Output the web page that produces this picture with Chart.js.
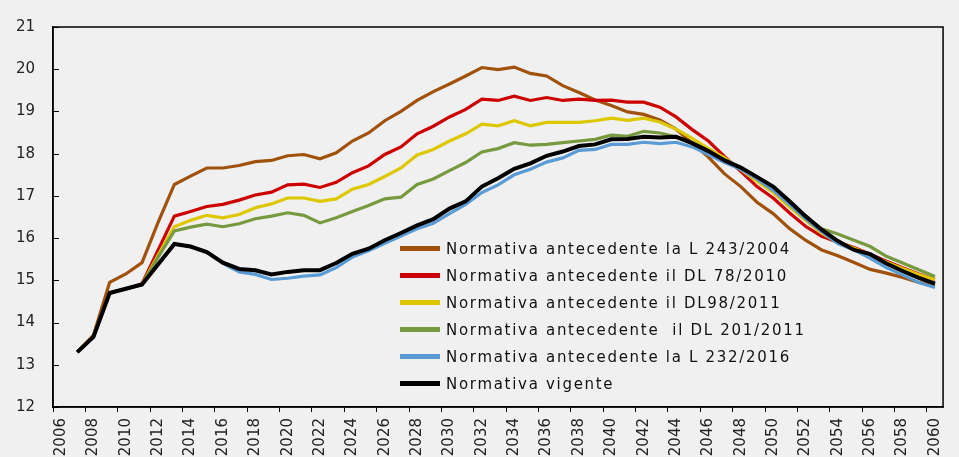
<!DOCTYPE html>
<html>
<head>
<meta charset="utf-8">
<script src="https://cdn.jsdelivr.net/npm/chart.js@4.4.1/dist/chart.umd.min.js"></script>
<style>
html, body { margin:0; padding:0; background:#f0f0f0; overflow:hidden; }
#wrap { position:relative; width:959px; height:457px; }
#legenda { position:absolute; left:400px; top:235px; font-family:"DejaVu Sans", sans-serif; font-size:15px; letter-spacing:1.7px; color:#111; }
.riga { display:flex; align-items:center; height:27px; white-space:pre; }
.segno { width:40px; margin-right:6px; }
</style>
</head>
<body>
<div id="wrap">
  <canvas id="grafico" width="959" height="457"></canvas>
  <div id="legenda"></div>
</div>
<script>
const anni = [];
for (let a = 2006; a <= 2060; a++) anni.push(String(a));

const nomiSerie = [
  'Normativa antecedente la L 243/2004',
  'Normativa antecedente il DL 78/2010',
  'Normativa antecedente il DL98/2011',
  'Normativa antecedente  il DL 201/2011',
  'Normativa antecedente la L 232/2016',
  'Normativa vigente'
];

const colori = ['#A0520C', '#CC0000', '#DDC800', '#77993F', '#5B9BD5', '#000000'];

const l243_2004 = [null,13.3,13.7,14.95,15.15,15.42,16.38,17.27,17.47,17.66,17.66,17.72,17.81,17.84,17.95,17.98,17.88,18.02,18.30,18.49,18.78,19.00,19.26,19.47,19.65,19.84,20.04,19.99,20.05,19.90,19.84,19.61,19.45,19.27,19.14,18.99,18.93,18.80,18.58,18.25,17.92,17.52,17.22,16.85,16.58,16.23,15.95,15.72,15.58,15.42,15.26,15.17,15.07,14.95,14.88];
const dl78_2010 = [null,13.3,13.68,14.7,14.8,14.92,15.72,16.52,16.63,16.75,16.8,16.9,17.02,17.09,17.26,17.28,17.2,17.32,17.55,17.71,17.98,18.16,18.47,18.65,18.87,19.05,19.29,19.26,19.36,19.26,19.33,19.26,19.29,19.26,19.27,19.22,19.22,19.1,18.87,18.57,18.3,17.93,17.58,17.22,16.95,16.6,16.28,16.04,15.9,15.78,15.62,15.45,15.3,15.15,15.02];
const dl98_2011 = [null,13.3,13.68,14.7,14.8,14.9,15.6,16.27,16.42,16.54,16.48,16.56,16.72,16.81,16.95,16.95,16.87,16.93,17.16,17.27,17.46,17.66,17.97,18.1,18.3,18.47,18.7,18.66,18.78,18.66,18.74,18.74,18.74,18.78,18.84,18.79,18.84,18.75,18.58,18.36,18.12,17.9,17.62,17.35,17.08,16.74,16.42,16.12,15.9,15.76,15.6,15.43,15.28,15.14,15.02];
const dl201_2011 = [null,13.3,13.68,14.7,14.8,14.9,15.55,16.17,16.26,16.33,16.27,16.34,16.46,16.52,16.6,16.54,16.36,16.48,16.63,16.77,16.93,16.97,17.27,17.4,17.6,17.79,18.04,18.12,18.26,18.2,18.22,18.26,18.3,18.34,18.44,18.41,18.53,18.49,18.4,18.24,18.04,17.82,17.64,17.42,17.17,16.84,16.5,16.22,16.1,15.95,15.8,15.57,15.41,15.25,15.09];
const l232_2016 = [null,13.3,13.66,14.7,14.8,14.9,15.38,15.86,15.8,15.68,15.4,15.2,15.14,15.02,15.05,15.1,15.13,15.3,15.55,15.7,15.88,16.05,16.22,16.35,16.58,16.8,17.08,17.26,17.5,17.63,17.8,17.9,18.08,18.1,18.22,18.22,18.27,18.24,18.27,18.16,17.98,17.79,17.63,17.4,17.13,16.8,16.46,16.15,15.87,15.72,15.52,15.3,15.13,14.95,14.83];
const vigente = [null,13.3,13.66,14.7,14.8,14.9,15.38,15.86,15.8,15.67,15.42,15.27,15.24,15.14,15.2,15.24,15.24,15.41,15.63,15.75,15.95,16.12,16.3,16.45,16.7,16.87,17.22,17.42,17.64,17.77,17.95,18.05,18.18,18.22,18.34,18.35,18.4,18.38,18.4,18.25,18.06,17.84,17.67,17.45,17.22,16.88,16.52,16.2,15.93,15.72,15.62,15.4,15.22,15.06,14.92];

const valori = [l243_2004, dl78_2010, dl98_2011, dl201_2011, l232_2016, vigente];

const yMin = 12, yMax = 21;
const font = { family: '"DejaVu Sans", sans-serif', size: 15 };

const datasets = valori.map((v, i) => ({
  label: nomiSerie[i],
  data: v,
  borderColor: colori[i],
  backgroundColor: colori[i],
  borderWidth: i === 5 ? 4 : 3.2,
  pointRadius: 0,
  tension: 0,
  order: 6 - i
}));

// cornice + tacche interne sull'asse y
const cornice = {
  id: 'cornice',
  afterDraw(chart) {
    const { ctx, chartArea: a, scales } = chart;
    ctx.save();
    ctx.strokeStyle = '#000';
    ctx.lineWidth = 1.5;
    ctx.strokeRect(a.left, a.top, a.right - a.left, a.bottom - a.top);
    ctx.lineWidth = 1;
    scales.y.ticks.forEach(t => {
      const y = Math.round(scales.y.getPixelForValue(t.value)) + 0.5;
      ctx.beginPath();
      ctx.moveTo(a.left, y);
      ctx.lineTo(a.left + 6, y);
      ctx.stroke();
    });
    ctx.restore();
  }
};

const grafico = new Chart(document.getElementById('grafico'), {
  type: 'line',
  data: { labels: anni, datasets: datasets },
  options: {
    responsive: false,
    animation: false,
    layout: { padding: { top: 20, right: 3, left: 0, bottom: 0 } },
    plugins: { legend: { display: false }, tooltip: { enabled: false } },
    scales: {
      x: {
        offset: true,
        afterFit: s => { s.height = 50; },
        grid: {
          offset: true,
          drawOnChartArea: false,
          tickLength: 5,
          tickColor: c => (c.index !== undefined && c.index % 2 === 0) ? '#000' : 'rgba(0,0,0,0)'
        },
        border: { color: '#000', width: 1.5 },
        ticks: {
          autoSkip: false,
          maxRotation: 90,
          minRotation: 90,
          padding: 6,
          color: '#222',
          font: font,
          callback: (v, i) => i % 2 === 0 ? anni[i] : ''
        }
      },
      y: {
        min: yMin,
        max: yMax,
        afterFit: s => { s.width = 53; },
        grid: { display: false, drawTicks: false },
        border: { color: '#000', width: 1.5 },
        ticks: { stepSize: 1, padding: 18, color: '#222', font: font }
      }
    }
  },
  plugins: [cornice]
});

// legenda HTML costruita dai dataset
const leg = document.getElementById('legenda');
grafico.data.datasets.forEach(d => {
  const r = document.createElement('div');
  r.className = 'riga';
  const s = document.createElement('span');
  s.className = 'segno';
  s.style.height = (d.borderWidth + 1) + 'px';
  s.style.background = d.borderColor;
  const t = document.createElement('span');
  t.textContent = d.label;
  r.appendChild(s);
  r.appendChild(t);
  leg.appendChild(r);
});
</script>
</body>
</html>
